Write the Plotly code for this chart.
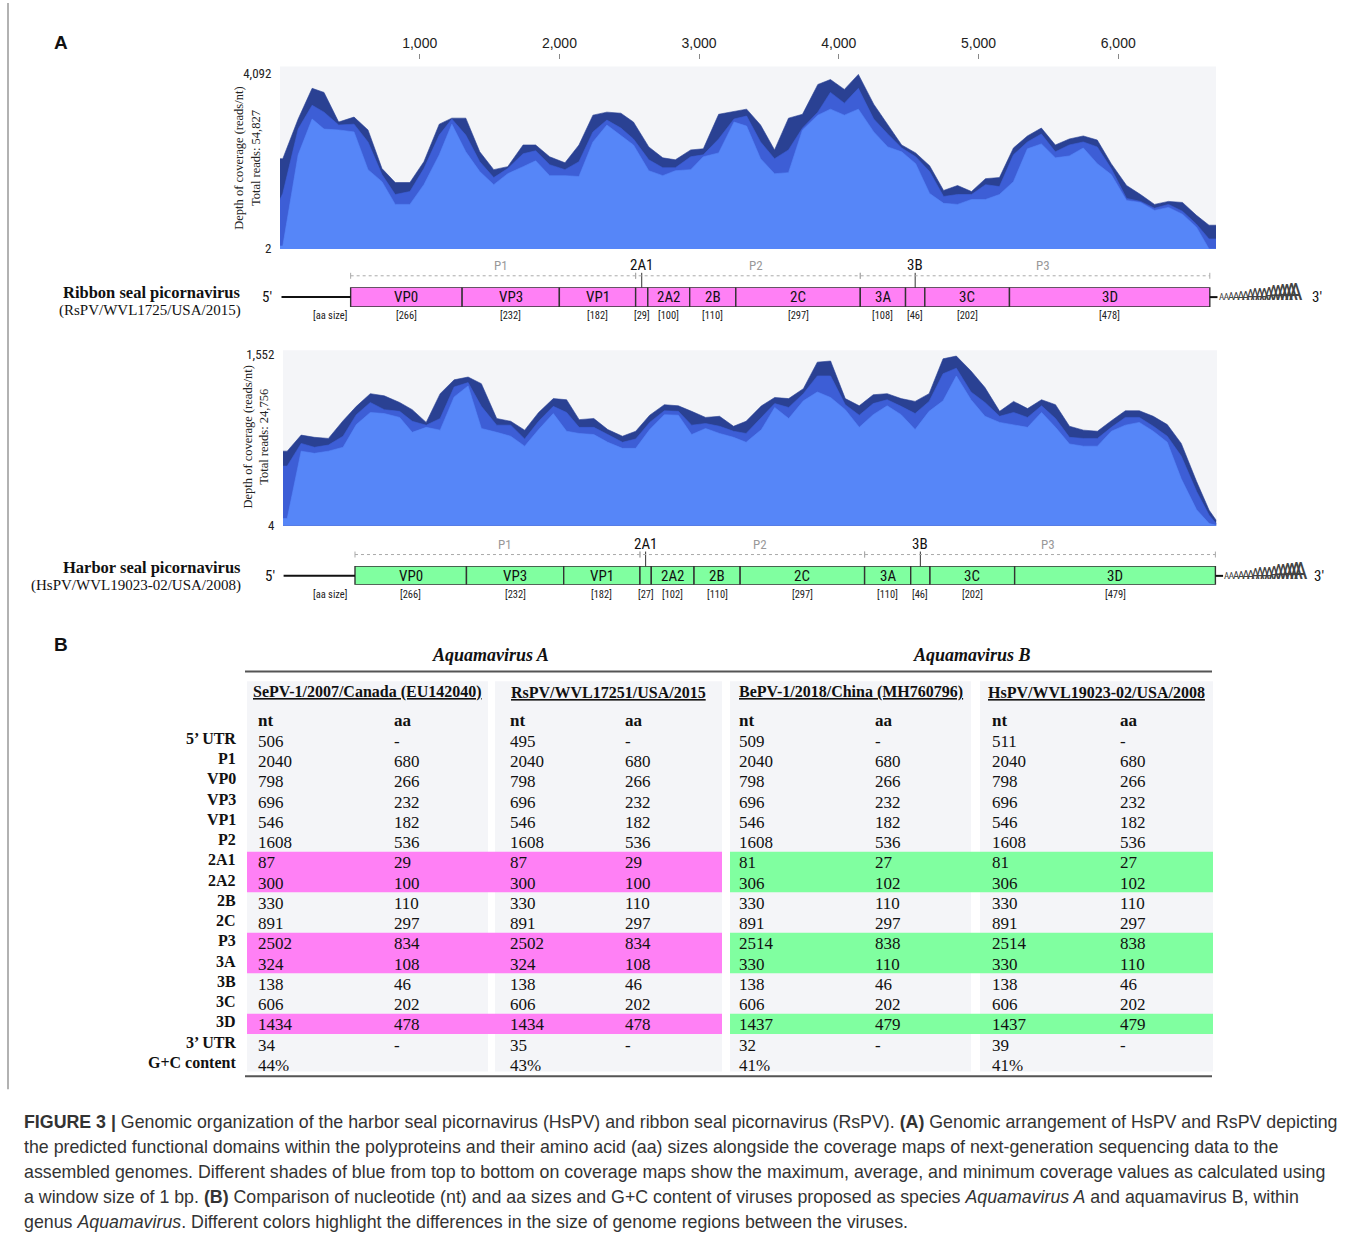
import plotly.graph_objects as go

W, H = 1355, 1246


def px(x):
    return x / W


def py(y):
    return 1 - y / H


# ---------------- DATA ----------------
# Coverage (reads/nt) sampled along the genome (nt) -- RsPV
RS_POS = [0, 20, 130, 230, 315, 420, 530, 630, 730, 825, 930, 1030, 1140, 1230, 1330, 1430, 1530, 1630, 1740, 1830,
          1930, 2040, 2140, 2240, 2340, 2440, 2530, 2640, 2740, 2830, 2940, 3030, 3140, 3250, 3340, 3440, 3540, 3640,
          3740, 3850, 3940, 4040, 4140, 4250, 4350, 4450, 4550, 4650, 4750, 4850, 4950, 5050, 5150, 5250, 5350, 5450,
          5550, 5650, 5750, 5850, 5950, 6060, 6160, 6260, 6360, 6460, 6560, 6650, 6700]
RS_MAX = [2105, 2105, 3030, 3745, 3650, 2960, 3075, 2775, 1875, 1550,
          1550, 2035, 2910, 3050, 3050, 2265, 1850, 1920, 2425, 2425,
          2150, 2010, 2425, 3120, 3190, 3165, 2960, 2380, 2125, 2080,
          2310, 2335, 3140, 3210, 3260, 2890, 2310, 3050, 3140, 3835,
          3950, 3720, 4070, 3375, 2910, 2425, 2240, 1940, 1365, 1480,
          1340, 1640, 1665, 2355, 2635, 2820, 2425, 2565, 2635, 2540,
          1990, 1480, 1270, 1040, 1110, 1085, 785, 555, 555]
RS_AVG = [1155, 1295, 2795, 3350, 3190, 2890, 2910, 2495, 1735, 1270,
          1340, 1875, 2655, 3030, 2655, 2035, 1665, 1875, 2220, 2290,
          1965, 1850, 2035, 2730, 3005, 2820, 2565, 2080, 1895, 1895,
          2150, 2195, 2565, 3030, 3100, 2495, 2105, 2310, 2820, 3190,
          3650, 3400, 3745, 3030, 2680, 2355, 2150, 1805, 1225, 1270,
          1270, 1500, 1455, 2195, 2495, 2680, 2265, 2425, 2495, 2380,
          1875, 1180, 1110, 950, 1040, 880, 580, 235, 235]
RS_MIN = [70, 70, 2195, 3030, 2795, 2775, 2730, 1850, 1570, 1040,
          1040, 1500, 2195, 2910, 2265, 1805, 1500, 1755, 1920, 2055,
          1710, 1710, 1690, 2495, 2890, 2655, 2425, 1825, 1710, 1825,
          1850, 2150, 2240, 2960, 2865, 2105, 1755, 1780, 2775, 3120,
          3260, 3120, 3260, 2730, 2380, 2265, 1990, 1295, 1065, 1040,
          1155, 1155, 1270, 1570, 2335, 2450, 2125, 2170, 2355, 1990,
          1735, 1130, 1085, 900, 970, 810, 510, 2, 2]

# Coverage -- HsPV
HS_POS = [0, 30, 130, 225, 325, 430, 525, 625, 725, 835, 925, 1025, 1125, 1225, 1325, 1420, 1530, 1630, 1730, 1830,
          1935, 2030, 2120, 2225, 2325, 2430, 2525, 2625, 2730, 2830, 2925, 3025, 3125, 3225, 3315, 3425, 3520, 3620,
          3725, 3825, 3920, 4025, 4125, 4225, 4325, 4425, 4525, 4625, 4725, 4820, 4925, 5025, 5130, 5230, 5330, 5430,
          5530, 5630, 5730, 5830, 5930, 6030, 6130, 6230, 6330, 6430, 6540, 6630, 6680]
HS_MAX = [675, 675, 820, 800, 790, 950, 1080, 1195, 1175, 1115,
          1050, 935, 1195, 1320, 1345, 1285, 970, 945, 865, 1025,
          1150, 1140, 960, 970, 870, 810, 855, 1000, 1095, 1085,
          1035, 980, 990, 900, 945, 1085, 1160, 1150, 1240, 1480,
          1490, 1150, 1085, 1185, 1195, 1150, 1125, 1195, 1510, 1535,
          1400, 1250, 1035, 1125, 1060, 1140, 1095, 900, 865, 855,
          950, 1040, 1040, 990, 915, 745, 400, 140, 50]
HS_AVG = [540, 540, 745, 710, 730, 810, 1005, 1115, 1050, 1035,
          945, 910, 970, 1255, 1295, 1080, 910, 910, 785, 945,
          1080, 1025, 890, 890, 825, 755, 785, 935, 1040, 1035,
          910, 925, 900, 855, 835, 980, 1105, 1070, 1195, 1355,
          1355, 1095, 1000, 1105, 1140, 1080, 1015, 1125, 1375, 1425,
          1210, 1115, 990, 1025, 980, 1085, 970, 800, 790, 790,
          890, 980, 980, 900, 810, 630, 310, 95, 20]
HS_MIN = [65, 65, 675, 655, 675, 710, 915, 1025, 1015, 980,
          845, 890, 865, 1165, 1265, 880, 845, 810, 720, 870,
          1015, 855, 835, 825, 755, 700, 700, 870, 1005, 1000,
          825, 880, 835, 800, 755, 870, 1070, 970, 1130, 1210,
          1160, 1050, 890, 1005, 1085, 1005, 870, 1035, 1130, 1355,
          1140, 990, 935, 910, 890, 1025, 890, 740, 720, 720,
          855, 910, 935, 855, 755, 425, 145, 20, 4]

RS_RANGE = [2, 4092]
HS_RANGE = [4, 1552]
RS_TOTAL_READS = "54,827"
HS_TOTAL_READS = "24,756"
NT_TICKS = [1000, 2000, 3000, 4000, 5000, 6000]

# Genome maps
SEGMENTS = ["VP0", "VP3", "VP1", "2A1", "2A2", "2B", "2C", "3A", "3B", "3C", "3D"]
SEG_REGION = ["P1", "P1", "P1", "P2", "P2", "P2", "P2", "P3", "P3", "P3", "P3"]
CALLOUT = ["2A1", "3B"]
RS_AA = [266, 232, 182, 29, 100, 110, 297, 108, 46, 202, 478]
HS_AA = [266, 232, 182, 27, 102, 110, 297, 110, 46, 202, 479]
RS_UTR5 = 495
HS_UTR5 = 511
POLY_A = "AAAAAAAAAAAAAAAAA"

# Table
ROW_LABELS = ["5’ UTR", "P1", "VP0", "VP3", "VP1", "P2", "2A1", "2A2", "2B", "2C", "P3", "3A", "3B", "3C", "3D",
              "3’ UTR", "G+C content"]
STRAINS = ["SePV-1/2007/Canada (EU142040)", "RsPV/WVL17251/USA/2015",
           "BePV-1/2018/China (MH760796)", "HsPV/WVL19023-02/USA/2008"]
SPECIES = ["Aquamavirus A", "Aquamavirus A", "Aquamavirus B", "Aquamavirus B"]
SEPV_NT = [506, 2040, 798, 696, 546, 1608, 87, 300, 330, 891, 2502, 324, 138, 606, 1434, 34, "44%"]
SEPV_AA = ["-", 680, 266, 232, 182, 536, 29, 100, 110, 297, 834, 108, 46, 202, 478, "-", ""]
RSPV_NT = [495, 2040, 798, 696, 546, 1608, 87, 300, 330, 891, 2502, 324, 138, 606, 1434, 35, "43%"]
RSPV_AA = ["-", 680, 266, 232, 182, 536, 29, 100, 110, 297, 834, 108, 46, 202, 478, "-", ""]
BEPV_NT = [509, 2040, 798, 696, 546, 1608, 81, 306, 330, 891, 2514, 330, 138, 606, 1437, 32, "41%"]
BEPV_AA = ["-", 680, 266, 232, 182, 536, 27, 102, 110, 297, 838, 110, 46, 202, 479, "-", ""]
HSPV_NT = [511, 2040, 798, 696, 546, 1608, 81, 306, 330, 891, 2514, 330, 138, 606, 1437, 39, "41%"]
HSPV_AA = ["-", 680, 266, 232, 182, 536, 27, 102, 110, 297, 838, 110, 46, 202, 479, "-", ""]

# ---------------- STYLE ----------------
SANS = "Liberation Sans, Arial, sans-serif"
NARROW = "Liberation Sans Narrow, Arial Narrow, Roboto Condensed, Liberation Sans, sans-serif"
SERIF = "Liberation Serif, Times New Roman, serif"
COV_COLORS = ["#2a4193", "#3d5ed6", "#5686f8"]
PINK = "#ff80f5"
GREEN = "#80ffa0"
PANEL = "#f4f5f8"
NT_PX = 0.1397  # px per nt in the maps

fig = go.Figure()
annotations = []
shapes = []


def txt(x, y, s, size, family=SANS, color="#000", xanchor="center", yanchor="middle", xref="paper", yref="paper",
        **kw):
    annotations.append(dict(x=x, y=y, text=s, xref=xref, yref=yref, xanchor=xanchor, yanchor=yanchor,
                            showarrow=False, font=dict(size=size, family=family, color=color), **kw))


# ---------------- coverage plots ----------------
def add_cov(pos, series, xa, ya):
    for ys, c in zip(series, COV_COLORS):
        fig.add_trace(go.Scatter(x=pos, y=ys, mode="lines", fill="tozeroy", fillcolor=c,
                                 line=dict(color=c, width=0.6), xaxis=xa, yaxis=ya,
                                 hoverinfo="skip", showlegend=False))


add_cov(RS_POS, [RS_MAX, RS_AVG, RS_MIN], "x", "y")
add_cov(HS_POS, [HS_MAX, HS_AVG, HS_MIN], "x4", "y4")
fig.add_trace(go.Scatter(x=[None], y=[None], xaxis="x2", yaxis="y", showlegend=False, hoverinfo="skip"))

for xr, yr in [("x", "y"), ("x4", "y4")]:
    shapes.append(dict(type="rect", xref=xr + " domain", yref=yr + " domain", x0=0, x1=1, y0=0, y1=1,
                       fillcolor=PANEL, line=dict(width=0), layer="below"))

txt(px(247), py(157), "Depth of coverage (reads/nt)<br>Total reads: " + RS_TOTAL_READS, 12.5, SERIF, "#222",
    textangle=-90)
txt(px(256), py(438), "Depth of coverage (reads/nt)<br>Total reads: " + HS_TOTAL_READS, 12.5, SERIF, "#222",
    textangle=-90)


def poly_a_text(tail):
    n = len(tail)
    parts = []
    for i, ch in enumerate(tail):
        size = 9 + 15.0 * i / (n - 1)
        spacing = 4.9 - 0.61 * size
        parts.append('<span style="font-size:%.1fpx;letter-spacing:%.1fpx">%s</span>' % (size, spacing, ch))
    return "".join(parts)


# ---------------- genome maps ----------------
def add_map(aa, utr5, color, xa, ya, bar_top, name, strain, name_y, strain_y, x5, x3):
    starts, pos = [], utr5
    for a in aa:
        starts.append(pos)
        pos += 3 * a
    end = pos
    lengths = [3 * a for a in aa]
    fig.add_trace(go.Bar(y=[0] * len(aa), x=lengths, base=starts, orientation="h", width=1,
                         marker=dict(color=color, line=dict(color="#333", width=1.4)),
                         xaxis=xa, yaxis=ya, hoverinfo="skip", showlegend=False))
    mid = bar_top + 9.5
    xr = xa
    # 5' line
    shapes.append(dict(type="line", xref=xr, yref="paper", x0=0, x1=utr5, y0=py(mid), y1=py(mid),
                       line=dict(color="#111", width=2)))
    txt(px(x5), py(mid), "5′", 15, NARROW, "#111")
    # poly-A tail
    shapes.append(dict(type="line", xref=xr, yref="paper", x0=end, x1=end + 55, y0=py(mid), y1=py(mid),
                       line=dict(color="#111", width=2)))
    annotations.append(dict(x=end + 50, y=py(mid + 11), xref=xr, yref="paper", text=poly_a_text(POLY_A),
                            showarrow=False, xanchor="left", yanchor="bottom",
                            font=dict(size=24, family=NARROW, color="#444")))
    txt(px(x3), py(mid), "3′", 15, NARROW, "#111")
    # labels
    for s, a, st, ln in zip(SEGMENTS, aa, starts, lengths):
        c = st + ln / 2
        if s in CALLOUT:
            txt(c, py(bar_top - 23), s, 15, NARROW, "#111", xref=xr)
            shapes.append(dict(type="line", xref=xr, yref="paper", x0=c, x1=c, y0=py(bar_top - 15),
                               y1=py(bar_top), line=dict(color="#333", width=1)))
        else:
            txt(c, py(mid), s, 15, NARROW, "#111", xref=xr)
        txt(c, py(bar_top + 28), "[%d]" % a, 10.5, NARROW, "#222", xref=xr)
    txt(px(330), py(bar_top + 28), "[aa size]", 10.5, NARROW, "#222")
    # polyprotein regions
    shapes.append(dict(type="line", xref=xr, yref="paper", x0=starts[0], x1=end, y0=py(bar_top - 12),
                       y1=py(bar_top - 12), line=dict(color="#aaa", width=1, dash="dot")))
    regions = []
    for r in SEG_REGION:
        if r not in regions:
            regions.append(r)
    for r in regions:
        idx = [i for i, q in enumerate(SEG_REGION) if q == r]
        r0, r1 = starts[idx[0]], starts[idx[-1]] + lengths[idx[-1]]
        txt((r0 + r1) / 2, py(bar_top - 22), r, 13, NARROW, "#999", xref=xr, xshift=8)
        for xx in (r0, r1):
            shapes.append(dict(type="line", xref=xr, yref="paper", x0=xx, x1=xx, y0=py(bar_top - 15),
                               y1=py(bar_top - 9), line=dict(color="#aaa", width=1)))
    txt(px(243), py(name_y), "<b>" + name + "</b>", 16.5, SERIF, "#111", xanchor="right")
    txt(px(243), py(strain_y), strain, 15, SERIF, "#111", xanchor="right")


add_map(RS_AA, RS_UTR5, PINK, "x3", "y3", 287, "Ribbon seal picornavirus", "(RsPV/WVL1725/USA/2015)",
        292, 310, 267, 1317)
add_map(HS_AA, HS_UTR5, GREEN, "x5", "y5", 568, "Harbor seal picornavirus", "(HsPV/WVL19023-02/USA/2008)",
        569, 587, 270, 1319)

# ---------------- table ----------------
NT_COLS = [SEPV_NT, RSPV_NT, BEPV_NT, HSPV_NT]
AA_COLS = [SEPV_AA, RSPV_AA, BEPV_AA, HSPV_AA]
BLOCKS = [(247, 488), (495, 722), (730, 971), (980, 1213)]
NT_X = [256, 508, 737, 990]
AA_X = [392, 623, 873, 1118]

for (b0, b1) in BLOCKS:
    shapes.append(dict(type="rect", xref="paper", yref="y6", x0=px(b0), x1=px(b1), y0=-1.93,
                       y1=len(ROW_LABELS) + 0.35, fillcolor=PANEL, line=dict(width=0), layer="below"))
# highlight rows where aa size differs between the two species
for k, lab in enumerate(ROW_LABELS):
    a_val = AA_COLS[0][k]
    b_val = AA_COLS[2][k]
    if isinstance(a_val, int) and isinstance(b_val, int) and a_val != b_val:
        shapes.append(dict(type="rect", xref="paper", yref="y6", x0=px(BLOCKS[0][0]), x1=px(BLOCKS[1][1]),
                           y0=k + 0.5, y1=k + 1.5, fillcolor=PINK, line=dict(width=0), layer="below"))
        shapes.append(dict(type="rect", xref="paper", yref="y6", x0=px(BLOCKS[2][0]), x1=px(BLOCKS[3][1]),
                           y0=k + 0.5, y1=k + 1.5, fillcolor=GREEN, line=dict(width=0), layer="below"))

shapes.append(dict(type="line", xref="paper", yref="paper", x0=px(245), x1=px(1212), y0=py(674), y1=py(674),
                   line=dict(color="#555", width=2)))
shapes.append(dict(type="line", xref="paper", yref="paper", x0=px(245), x1=px(1212), y0=py(1082), y1=py(1082),
                   line=dict(color="#555", width=2)))

txt(px(490), py(657), "<b><i>" + SPECIES[0] + "</i></b>", 18, SERIF, "#111")
txt(px(972), py(657), "<b><i>" + SPECIES[2] + "</i></b>", 18, SERIF, "#111")

for j, s in enumerate(STRAINS):
    cx = (BLOCKS[j][0] + BLOCKS[j][1]) / 2
    txt(px(cx), -1.37, "<b><u>" + s + "</u></b>", 16, SERIF, "#111", yref="y6")
    txt(px(NT_X[j]), 0, "<b>nt</b>", 17, SERIF, "#111", xanchor="left", yref="y6")
    txt(px(AA_X[j]), 0, "<b>aa</b>", 17, SERIF, "#111", xanchor="left", yref="y6")
    for k in range(len(ROW_LABELS)):
        txt(px(NT_X[j]), k + 1, str(NT_COLS[j][k]), 17, SERIF, "#111", xanchor="left", yref="y6", yshift=-1)
        if AA_COLS[j][k] != "":
            txt(px(AA_X[j]), k + 1, str(AA_COLS[j][k]), 17, SERIF, "#111", xanchor="left", yref="y6", yshift=-1)
for k, lab in enumerate(ROW_LABELS):
    txt(px(238), k + 1, "<b>" + lab + "</b>", 16, SERIF, "#111", xanchor="right", yref="y6", yshift=2)

# ---------------- panel letters + caption ----------------
txt(px(61), py(40), "<b>A</b>", 19, SANS, "#111")
txt(px(61), py(647), "<b>B</b>", 19, SANS, "#111")

CAPTION = [
    "<b>FIGURE 3 |</b> Genomic organization of the harbor seal picornavirus (HsPV) and ribbon seal picornavirus (RsPV). "
    "<b>(A)</b> Genomic arrangement of HsPV and RsPV depicting",
    "the predicted functional domains within the polyproteins and their amino acid (aa) sizes alongside the coverage "
    "maps of next-generation sequencing data to the",
    "assembled genomes. Different shades of blue from top to bottom on coverage maps show the maximum, average, and "
    "minimum coverage values as calculated using",
    "a window size of 1 bp. <b>(B)</b> Comparison of nucleotide (nt) and aa sizes and G+C content of viruses proposed "
    "as species <i>Aquamavirus A</i> and aquamavirus B, within",
    "genus <i>Aquamavirus</i>. Different colors highlight the differences in the size of genome regions between the viruses.",
]
for i, line in enumerate(CAPTION):
    txt(px(22), py(1128 + i * 25.3), line, 17.8, SANS, "#333", xanchor="left")

shapes.append(dict(type="line", xref="paper", yref="paper", x0=px(8), x1=px(8), y0=py(0), y1=py(1095),
                   line=dict(color="#999", width=1.5)))

# ---------------- axes ----------------
HID = dict(visible=False, showgrid=False, zeroline=False, fixedrange=True)
rs_map_x0, hs_map_x0 = 281.5, 283.6
fig.update_layout(
    width=W, height=H, margin=dict(l=0, r=0, t=0, b=0), paper_bgcolor="white", plot_bgcolor="rgba(0,0,0,0)",
    showlegend=False, barmode="overlay",
    xaxis=dict(domain=[px(280), px(1216)], range=[0, 6700], anchor="y", **HID),
    xaxis2=dict(overlaying="x", anchor="free", position=py(56), side="top", range=[0, 6700],
                tickvals=NT_TICKS, ticktext=["{:,}".format(t) for t in NT_TICKS], ticks="outside", ticklen=5,
                tickcolor="#888", showgrid=False, zeroline=False, showline=False, fixedrange=True,
                tickfont=dict(size=14, family=SANS, color="#222")),
    yaxis=dict(domain=[py(248), py(64)], range=[0, 4254], anchor="x", tickvals=RS_RANGE,
               ticktext=["{:,}".format(v) for v in RS_RANGE], showgrid=False, zeroline=False, showline=False,
               ticks="outside", ticklen=5, tickcolor="rgba(0,0,0,0)", fixedrange=True,
               tickfont=dict(size=13, family=NARROW, color="#222")),
    xaxis3=dict(domain=[0, 1], range=[-rs_map_x0 / NT_PX, (W - rs_map_x0) / NT_PX], anchor="y3", **HID),
    yaxis3=dict(domain=[py(306.5), py(286.5)], range=[-0.5, 0.5], anchor="x3", **HID),
    xaxis4=dict(domain=[px(283), px(1217)], range=[0, 6686], anchor="y4", **HID),
    yaxis4=dict(domain=[py(527), py(350)], range=[0, 1588], anchor="x4", tickvals=HS_RANGE,
                ticktext=["{:,}".format(v) for v in HS_RANGE], showgrid=False, zeroline=False, showline=False,
                ticks="outside", ticklen=5, tickcolor="rgba(0,0,0,0)", fixedrange=True,
                tickfont=dict(size=13, family=NARROW, color="#222")),
    xaxis5=dict(domain=[0, 1], range=[-hs_map_x0 / NT_PX, (W - hs_map_x0) / NT_PX], anchor="y5", **HID),
    yaxis5=dict(domain=[py(586.5), py(567.5)], range=[-0.5, 0.5], anchor="x5", **HID),
    xaxis6=dict(domain=[0, 1], range=[0, 1], anchor="y6", **HID),
    yaxis6=dict(domain=[py(1080.2), py(682.2)], range=[17.5, -2.0], anchor="x6", **HID),
    annotations=annotations, shapes=shapes,
)

fig.write_html("out.html", config={"displayModeBar": False},
               post_script="document.body.style.margin='0';document.body.style.padding='0';")
